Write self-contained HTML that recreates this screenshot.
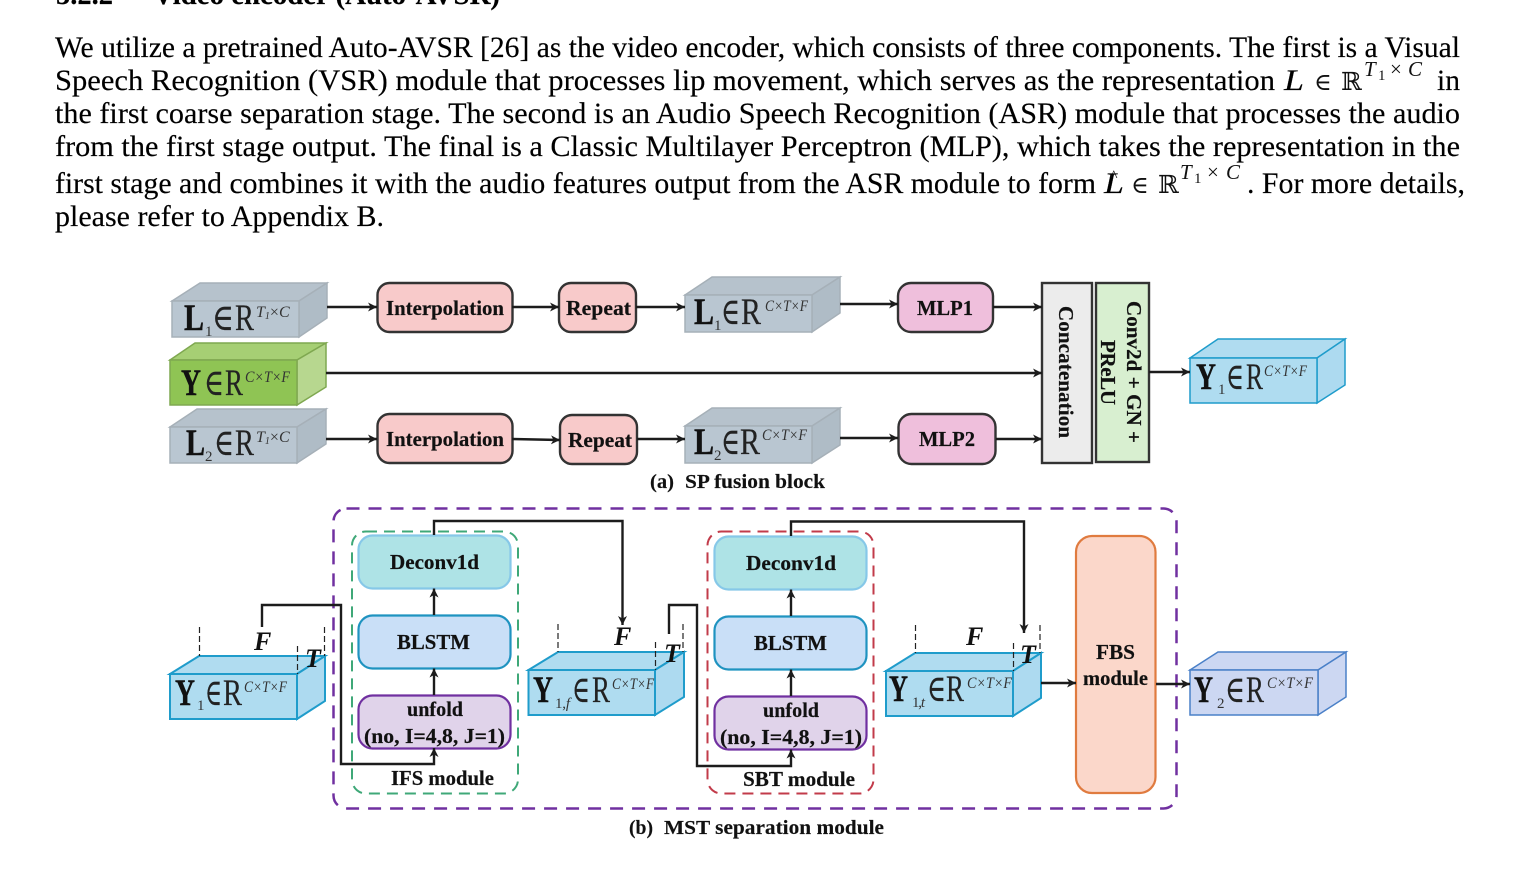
<!DOCTYPE html>
<html><head><meta charset="utf-8"><style>
html,body{margin:0;padding:0;background:#fff;width:1516px;height:870px;overflow:hidden}
svg{display:block}
text{font-family:"Liberation Serif","DejaVu Serif",serif;fill:#111}
.p{font-size:30px;fill:#000;stroke:#000;stroke-width:.15}
.b{font-weight:bold;font-size:21px;fill:#111;stroke:#111;stroke-width:.2}
.c{font-weight:bold;font-size:20px;fill:#111;stroke:#111;stroke-width:.15}
.m{font-size:37px;fill:#222;stroke:#222;stroke-width:.2}
.mb{font-size:37px;font-weight:bold;fill:#111;stroke:#111;stroke-width:.4}
.s{font-size:15px;fill:#333}
.u{font-size:16px;font-style:italic;fill:#333}
.i{font-size:26px;font-weight:bold;font-style:italic;fill:#111}
.a{fill:none;stroke:#1c1c1c;stroke-width:2.4;marker-end:url(#h)}
.t{stroke:#222;stroke-width:1.2;stroke-dasharray:6 3;fill:none}
</style></head><body>
<svg width="1516" height="870" viewBox="0 0 1516 870" xmlns="http://www.w3.org/2000/svg">
<defs><marker id="h" markerUnits="userSpaceOnUse" markerWidth="12" markerHeight="12" refX="9" refY="5" orient="auto"><path d="M0 0.500L9 5L0 9.500L2.500 5Z" fill="#1c1c1c"/></marker></defs>
<rect width="1516" height="870" fill="#fff"/>

<!-- paragraph -->
<text class="p" style="font-weight:bold" x="56" y="4" textLength="57" lengthAdjust="spacingAndGlyphs">5.2.2</text>
<text class="p" style="font-weight:bold" x="153" y="4" textLength="347" lengthAdjust="spacingAndGlyphs">Video encoder (Auto-AVSR)</text>
<text class="p" x="55" y="57" textLength="1405" lengthAdjust="spacingAndGlyphs">We utilize a pretrained Auto-AVSR [26] as the video encoder, which consists of three components. The first is a Visual</text>
<text class="p" x="55" y="90" textLength="1220" lengthAdjust="spacingAndGlyphs">Speech Recognition (VSR) module that processes lip movement, which serves as the representation</text>
<text class="p" x="1284" y="90" style="font-style:italic" textLength="20" lengthAdjust="spacingAndGlyphs">L</text>
<text x="1314" y="90" style="font-size:24px">∈</text>
<text x="1341" y="90" style="font-size:25px;font-family:'DejaVu Serif',serif">ℝ</text>
<text x="1364" y="76" style="font-size:21px;font-style:italic">T</text>
<text x="1378" y="80" style="font-size:15px">1</text>
<text x="1390" y="76" style="font-size:21px">×</text>
<text x="1408" y="76" style="font-size:21px;font-style:italic">C</text>
<text class="p" x="1437" y="90" textLength="23" lengthAdjust="spacingAndGlyphs">in</text>
<text class="p" x="55" y="123" textLength="1405" lengthAdjust="spacingAndGlyphs">the first coarse separation stage. The second is an Audio Speech Recognition (ASR) module that processes the audio</text>
<text class="p" x="55" y="156" textLength="1405" lengthAdjust="spacingAndGlyphs">from the first stage output. The final is a Classic Multilayer Perceptron (MLP), which takes the representation in the</text>
<text class="p" x="55" y="193" textLength="1041" lengthAdjust="spacingAndGlyphs">first stage and combines it with the audio features output from the ASR module to form</text>
<text class="p" x="1104" y="193" style="font-style:italic" textLength="20" lengthAdjust="spacingAndGlyphs">L</text>
<text x="1110" y="181" style="font-size:16px">^</text>
<text x="1131" y="193" style="font-size:24px">∈</text>
<text x="1158" y="193" style="font-size:25px;font-family:'DejaVu Serif',serif">ℝ</text>
<text x="1180" y="179" style="font-size:21px;font-style:italic">T</text>
<text x="1194" y="183" style="font-size:15px">1</text>
<text x="1207" y="179" style="font-size:21px">×</text>
<text x="1226" y="179" style="font-size:21px;font-style:italic">C</text>
<text class="p" x="1247" y="193" textLength="218" lengthAdjust="spacingAndGlyphs">. For more details,</text>
<text class="p" x="55" y="226" textLength="329" lengthAdjust="spacingAndGlyphs">please refer to Appendix B.</text>

<!-- (a) cubes -->
<g stroke-width="1.5">
<g stroke="#a6b0b8"><polygon points="172,301 200,283 327,283 299,301" fill="#b6c2cc"/><polygon points="299,301 327,283 327,318 299,337" fill="#afbcc6"/><rect x="172" y="301" width="127" height="36" fill="#b9c6d1"/></g>
<g stroke="#7fa850"><polygon points="170,360 195,343 326,343 297,360" fill="#a6cf74"/><polygon points="297,360 326,343 326,387 297,405" fill="#b7d78f"/><rect x="170" y="360" width="127" height="45" fill="#8fc454"/></g>
<g stroke="#a6b0b8"><polygon points="170,427 197,409 326,409 297,427" fill="#b6c2cc"/><polygon points="297,427 326,409 326,444 297,463" fill="#afbcc6"/><rect x="170" y="427" width="127" height="36" fill="#b9c6d1"/></g>
<g stroke="#a6b0b8"><polygon points="685,295 712,277 840,277 812,295" fill="#b6c2cc"/><polygon points="812,295 840,277 840,313 812,332" fill="#afbcc6"/><rect x="685" y="295" width="127" height="37" fill="#b9c6d1"/></g>
<g stroke="#a6b0b8"><polygon points="685,426 712,408 840,408 812,426" fill="#b6c2cc"/><polygon points="812,426 840,408 840,445 812,463" fill="#afbcc6"/><rect x="685" y="426" width="127" height="37" fill="#b9c6d1"/></g>
<g stroke="#1f9ccb"><polygon points="1190,358 1218,339 1345,339 1317,358" fill="#b0dcf0"/><polygon points="1317,358 1345,339 1345,385 1317,403" fill="#addaf0"/><rect x="1190" y="358" width="127" height="45" fill="#afdcf0"/></g>
</g>

<!-- (a) boxes -->
<g stroke="#333" stroke-width="2.4">
<rect x="377.500" y="283" width="135" height="49" rx="12" fill="#f8caca"/>
<rect x="559" y="283" width="77" height="49" rx="12" fill="#f8caca"/>
<rect x="377.500" y="414" width="135" height="49" rx="12" fill="#f8caca"/>
<rect x="560" y="415" width="77" height="49" rx="12" fill="#f8caca"/>
<rect x="898" y="283" width="95" height="49" rx="13" fill="#efbfdc"/>
<rect x="898.500" y="414" width="97" height="50" rx="13" fill="#efbfdc"/>
<rect x="1042" y="283" width="50" height="180" fill="#ececec"/>
<rect x="1096" y="283" width="53" height="179" fill="#d8efd0"/>
</g>

<!-- (a) arrows -->
<path class="a" d="M327 307H377"/><path class="a" d="M512 307H559"/><path class="a" d="M636 307H685"/>
<path class="a" d="M840 304H898"/><path class="a" d="M993 307H1042"/>
<path class="a" d="M326 373H1042"/>
<path class="a" d="M326 439H377"/><path class="a" d="M512 439L560 440"/><path class="a" d="M637 439H685"/>
<path class="a" d="M840 438H898"/><path class="a" d="M996 439H1042"/>
<path class="a" d="M1149 372H1190"/>

<!-- (a) box text -->
<text class="b" x="386" y="315" textLength="118" lengthAdjust="spacingAndGlyphs">Interpolation</text>
<text class="b" x="566" y="315" textLength="65" lengthAdjust="spacingAndGlyphs">Repeat</text>
<text class="b" x="386" y="446" textLength="118" lengthAdjust="spacingAndGlyphs">Interpolation</text>
<text class="b" x="568" y="447" textLength="64" lengthAdjust="spacingAndGlyphs">Repeat</text>
<text class="b" x="917" y="315" textLength="56" lengthAdjust="spacingAndGlyphs">MLP1</text>
<text class="b" x="919" y="446" textLength="56" lengthAdjust="spacingAndGlyphs">MLP2</text>
<text class="b" transform="translate(1059,306) rotate(90)" textLength="132" lengthAdjust="spacing">Concatenation</text>
<text class="b" transform="translate(1127,301) rotate(90)" textLength="142" lengthAdjust="spacing">Conv2d + GN +</text>
<text class="b" transform="translate(1101,340) rotate(90)" textLength="65" lengthAdjust="spacing">PReLU</text>
<text class="c" x="650" y="488" textLength="24" lengthAdjust="spacingAndGlyphs">(a)</text>
<text class="c" x="685" y="488" textLength="140" lengthAdjust="spacingAndGlyphs">SP fusion block</text>

<!-- (a) cube labels -->
<g>
<text class="mb" x="184" y="330" textLength="20" lengthAdjust="spacingAndGlyphs">L</text><text class="s" x="205" y="336">1</text><text class="m" x="212" y="330" textLength="22" lengthAdjust="spacingAndGlyphs">∈</text><text class="m" x="235" y="330" textLength="19" lengthAdjust="spacingAndGlyphs">R</text>
<text class="u" x="256" y="317">T<tspan font-size="10" dy="2">1</tspan><tspan dy="-2" font-style="normal">×</tspan>C</text>

<text class="mb" x="181" y="395" textLength="20" lengthAdjust="spacingAndGlyphs">Y</text><text class="m" x="204" y="395" textLength="20" lengthAdjust="spacingAndGlyphs">∈</text><text class="m" x="225" y="395" textLength="18" lengthAdjust="spacingAndGlyphs">R</text>
<text class="u" x="245" y="382" textLength="45" lengthAdjust="spacingAndGlyphs">C×T×F</text>

<text class="mb" x="186" y="455" textLength="19" lengthAdjust="spacingAndGlyphs">L</text><text class="s" x="205" y="461">2</text><text class="m" x="214" y="455" textLength="20" lengthAdjust="spacingAndGlyphs">∈</text><text class="m" x="235" y="455" textLength="19" lengthAdjust="spacingAndGlyphs">R</text>
<text class="u" x="256" y="442">T<tspan font-size="10" dy="2">1</tspan><tspan dy="-2" font-style="normal">×</tspan>C</text>

<text class="mb" x="694" y="324" textLength="20" lengthAdjust="spacingAndGlyphs">L</text><text class="s" x="714" y="330">1</text><text class="m" x="721" y="324" textLength="19" lengthAdjust="spacingAndGlyphs">∈</text><text class="m" x="741" y="324" textLength="20" lengthAdjust="spacingAndGlyphs">R</text>
<text class="u" x="765" y="311" textLength="43" lengthAdjust="spacingAndGlyphs">C×T×F</text>

<text class="mb" x="694" y="454" textLength="20" lengthAdjust="spacingAndGlyphs">L</text><text class="s" x="714" y="460">2</text><text class="m" x="721" y="454" textLength="19" lengthAdjust="spacingAndGlyphs">∈</text><text class="m" x="740" y="454" textLength="20" lengthAdjust="spacingAndGlyphs">R</text>
<text class="u" x="762" y="440" textLength="45" lengthAdjust="spacingAndGlyphs">C×T×F</text>

<text class="mb" x="1196" y="389" textLength="20" lengthAdjust="spacingAndGlyphs">Y</text><text class="s" x="1218" y="394">1</text><text class="m" x="1226" y="389" textLength="18" lengthAdjust="spacingAndGlyphs">∈</text><text class="m" x="1246" y="389" textLength="17" lengthAdjust="spacingAndGlyphs">R</text>
<text class="u" x="1264" y="376" textLength="43" lengthAdjust="spacingAndGlyphs">C×T×F</text>
</g>

<!-- (b) containers -->
<rect x="333.500" y="508.500" width="843" height="300" rx="13" fill="none" stroke="#7030a0" stroke-width="2.5" stroke-dasharray="13 9"/>
<rect x="352" y="531.500" width="166" height="262" rx="14" fill="none" stroke="#3fa878" stroke-width="2" stroke-dasharray="11 7"/>
<rect x="707.500" y="531.500" width="166" height="262" rx="14" fill="none" stroke="#c23b4a" stroke-width="2" stroke-dasharray="11 7"/>

<!-- (b) boxes -->
<g stroke-width="2.2">
<rect x="358.500" y="535.500" width="152" height="53" rx="14" fill="#aee3e6" stroke="#86c8e8"/>
<rect x="358.500" y="615.500" width="152" height="53" rx="14" fill="#c9dff7" stroke="#1f93c0"/>
<rect x="358.500" y="695.500" width="152" height="53" rx="14" fill="#e0d3ea" stroke="#7030a0"/>
<rect x="714.500" y="536.500" width="152" height="53" rx="14" fill="#aee3e6" stroke="#86c8e8"/>
<rect x="714.500" y="616.500" width="152" height="53" rx="14" fill="#c9dff7" stroke="#1f93c0"/>
<rect x="714.500" y="696.500" width="152" height="53" rx="14" fill="#e0d3ea" stroke="#7030a0"/>
<rect x="1076" y="536" width="79.500" height="257" rx="16" fill="#fbd7ca" stroke="#e07b3f"/>
</g>

<!-- (b) cubes -->
<g stroke-width="2">
<g stroke="#1f9ccb"><polygon points="170,674 199,656 325,656 297,674" fill="#b0dcf0"/><polygon points="297,674 325,656 325,701 297,719" fill="#addaf0"/><rect x="170" y="674" width="127" height="45" fill="#afdcf0"/></g>
<g stroke="#1f9ccb"><polygon points="528.500,670 558,652 684,652 655,670" fill="#b0dcf0"/><polygon points="655,670 684,652 684,697 655,715" fill="#addaf0"/><rect x="528.500" y="670" width="126.500" height="45" fill="#afdcf0"/></g>
<g stroke="#1f9ccb"><polygon points="886,671 915,653 1041,653 1013,671" fill="#b0dcf0"/><polygon points="1013,671 1041,653 1041,698 1013,716" fill="#addaf0"/><rect x="886" y="671" width="127" height="45" fill="#afdcf0"/></g>
<g stroke="#4a80c8" stroke-width="1.5"><polygon points="1190,670 1218,652 1346,652 1318,670" fill="#ccd7f2"/><polygon points="1318,670 1346,652 1346,697 1318,715" fill="#ccd7f2"/><rect x="1190" y="670" width="128" height="45" fill="#ccd7f2"/></g>
</g>

<!-- ticks -->
<path class="t" d="M199.500 627V656M297.500 646V674M324.500 627V656"/>
<path class="t" d="M558 624V652M655.500 642V670M683 624V652"/>
<path class="t" d="M915.500 625V653M1013.500 643V671M1040 625V653"/>

<!-- (b) connectors -->
<path class="a" d="M262 627V605H341V764H434V748"/>
<path class="a" d="M434 695V668.500"/><path class="a" d="M434 615V588.500"/>
<path class="a" d="M434 535V521H622.500V625"/>
<path class="a" d="M669 634V605H697V766H791V749.500"/>
<path class="a" d="M791 696V669.500"/><path class="a" d="M791 616V589.500"/>
<path class="a" d="M791 536V521.500H1024V633"/>
<path class="a" d="M1041 683H1076"/>
<path class="a" d="M1156 684H1190"/>

<!-- (b) text -->
<text class="b" x="390" y="569" textLength="89" lengthAdjust="spacingAndGlyphs">Deconv1d</text>
<text class="b" x="397" y="649" textLength="73" lengthAdjust="spacingAndGlyphs">BLSTM</text>
<text class="b" x="407" y="716" textLength="56" lengthAdjust="spacingAndGlyphs">unfold</text>
<text class="b" x="364" y="743" textLength="141" lengthAdjust="spacingAndGlyphs">(no, I=4,8, J=1)</text>
<text class="b" x="391" y="785" textLength="103" lengthAdjust="spacingAndGlyphs">IFS module</text>
<text class="b" x="746" y="570" textLength="90" lengthAdjust="spacingAndGlyphs">Deconv1d</text>
<text class="b" x="754" y="650" textLength="73" lengthAdjust="spacingAndGlyphs">BLSTM</text>
<text class="b" x="763" y="717" textLength="56" lengthAdjust="spacingAndGlyphs">unfold</text>
<text class="b" x="720" y="744" textLength="142" lengthAdjust="spacingAndGlyphs">(no, I=4,8, J=1)</text>
<text class="b" x="743" y="786" textLength="112" lengthAdjust="spacingAndGlyphs">SBT module</text>
<text class="b" x="1096" y="659" textLength="39" lengthAdjust="spacingAndGlyphs">FBS</text>
<text class="b" x="1083" y="685" textLength="65" lengthAdjust="spacingAndGlyphs">module</text>
<text class="c" x="629" y="834" textLength="24" lengthAdjust="spacingAndGlyphs">(b)</text>
<text class="c" x="664" y="834" textLength="220" lengthAdjust="spacingAndGlyphs">MST separation module</text>

<text class="i" x="254" y="650">F</text><text class="i" x="305" y="667">T</text>
<text class="i" x="614" y="645">F</text><text class="i" x="664" y="662">T</text>
<text class="i" x="966" y="645">F</text><text class="i" x="1020" y="663">T</text>

<!-- (b) cube labels -->
<text class="mb" x="175" y="705" textLength="20" lengthAdjust="spacingAndGlyphs">Y</text><text class="s" x="197" y="710">1</text><text class="m" x="205" y="705" textLength="17" lengthAdjust="spacingAndGlyphs">∈</text><text class="m" x="223" y="705" textLength="19" lengthAdjust="spacingAndGlyphs">R</text>
<text class="u" x="244" y="692" textLength="43" lengthAdjust="spacingAndGlyphs">C×T×F</text>

<text class="mb" x="533" y="702" textLength="20" lengthAdjust="spacingAndGlyphs">Y</text><text class="s" x="555" y="708" textLength="15" lengthAdjust="spacing">1,<tspan font-style="italic">f</tspan></text><text class="m" x="572" y="702" textLength="18" lengthAdjust="spacingAndGlyphs">∈</text><text class="m" x="592" y="702" textLength="18" lengthAdjust="spacingAndGlyphs">R</text>
<text class="u" x="612" y="689" textLength="42" lengthAdjust="spacingAndGlyphs">C×T×F</text>

<text class="mb" x="889" y="701" textLength="19" lengthAdjust="spacingAndGlyphs">Y</text><text class="s" x="912" y="707" textLength="13" lengthAdjust="spacing">1,<tspan font-style="italic">t</tspan></text><text class="m" x="927" y="701" textLength="19" lengthAdjust="spacingAndGlyphs">∈</text><text class="m" x="946" y="701" textLength="18" lengthAdjust="spacingAndGlyphs">R</text>
<text class="u" x="967" y="688" textLength="45" lengthAdjust="spacingAndGlyphs">C×T×F</text>

<text class="mb" x="1194" y="702" textLength="19" lengthAdjust="spacingAndGlyphs">Y</text><text class="s" x="1217" y="708">2</text><text class="m" x="1225" y="702" textLength="20" lengthAdjust="spacingAndGlyphs">∈</text><text class="m" x="1246" y="702" textLength="18" lengthAdjust="spacingAndGlyphs">R</text>
<text class="u" x="1267" y="688" textLength="46" lengthAdjust="spacingAndGlyphs">C×T×F</text>
</svg>
</body></html>
